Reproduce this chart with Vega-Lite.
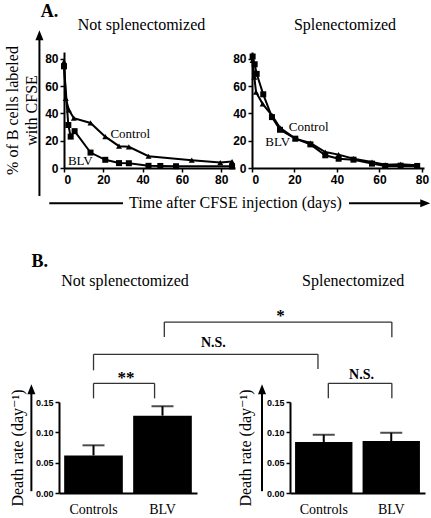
{
  "$schema": "https://vega.github.io/schema/vega-lite/v6.json",
  "background": "white",
  "padding": {"left": 4, "top": 3, "right": 0, "bottom": 0},
  "config": {
    "view": {"stroke": null},
    "axis": {
      "grid": false, "domainColor": "black", "domainWidth": 2, "tickColor": "black", "tickWidth": 1.5, "tickSize": 4,
      "labelFont": "Liberation Sans, Arial, sans-serif", "labelFontWeight": "bold", "labelColor": "black", "labelPadding": 2, "labelOverlap": false,
      "titleFont": "Liberation Serif, Times New Roman, DejaVu Serif, serif", "titleFontWeight": "normal", "titleFontSize": 16, "titleColor": "black"
    },
    "title": {"font": "Liberation Serif, Times New Roman, DejaVu Serif, serif", "fontWeight": "normal", "fontSize": 16, "color": "black"},
    "text": {"font": "Liberation Serif, Times New Roman, DejaVu Serif, serif", "color": "black"}
  },
  "datasets": {
    "cfse": [
      {"panel": "Not splenectomized", "series": "BLV", "day": 0, "pct": 74.5},
      {"panel": "Not splenectomized", "series": "BLV", "day": 2.2, "pct": 31.5},
      {"panel": "Not splenectomized", "series": "BLV", "day": 3.4, "pct": 23},
      {"panel": "Not splenectomized", "series": "BLV", "day": 5.4, "pct": 27},
      {"panel": "Not splenectomized", "series": "BLV", "day": 13.5, "pct": 11.3},
      {"panel": "Not splenectomized", "series": "BLV", "day": 21, "pct": 6},
      {"panel": "Not splenectomized", "series": "BLV", "day": 28, "pct": 3.6},
      {"panel": "Not splenectomized", "series": "BLV", "day": 33, "pct": 3.5},
      {"panel": "Not splenectomized", "series": "BLV", "day": 43, "pct": 1.6},
      {"panel": "Not splenectomized", "series": "BLV", "day": 49, "pct": 1.5},
      {"panel": "Not splenectomized", "series": "BLV", "day": 57, "pct": 1.3},
      {"panel": "Not splenectomized", "series": "BLV", "day": 85.5, "pct": 1.2},
      {"panel": "Not splenectomized", "series": "Control", "day": 0, "pct": 78},
      {"panel": "Not splenectomized", "series": "Control", "day": 0.9, "pct": 51},
      {"panel": "Not splenectomized", "series": "Control", "day": 2.5, "pct": 42.5},
      {"panel": "Not splenectomized", "series": "Control", "day": 5, "pct": 36.5},
      {"panel": "Not splenectomized", "series": "Control", "day": 13.5, "pct": 33},
      {"panel": "Not splenectomized", "series": "Control", "day": 21, "pct": 23},
      {"panel": "Not splenectomized", "series": "Control", "day": 28, "pct": 16},
      {"panel": "Not splenectomized", "series": "Control", "day": 33, "pct": 15.5},
      {"panel": "Not splenectomized", "series": "Control", "day": 43, "pct": 8.6},
      {"panel": "Not splenectomized", "series": "Control", "day": 65, "pct": 5.7},
      {"panel": "Not splenectomized", "series": "Control", "day": 79.5, "pct": 4},
      {"panel": "Not splenectomized", "series": "Control", "day": 85.5, "pct": 4.7},
      {"panel": "Splenectomized", "series": "BLV", "day": 0.3, "pct": 81.7},
      {"panel": "Splenectomized", "series": "BLV", "day": 1.25, "pct": 76},
      {"panel": "Splenectomized", "series": "BLV", "day": 2.2, "pct": 69},
      {"panel": "Splenectomized", "series": "BLV", "day": 5.3, "pct": 54},
      {"panel": "Splenectomized", "series": "BLV", "day": 9.4, "pct": 37.3},
      {"panel": "Splenectomized", "series": "BLV", "day": 13.2, "pct": 28},
      {"panel": "Splenectomized", "series": "BLV", "day": 20.4, "pct": 21.5},
      {"panel": "Splenectomized", "series": "BLV", "day": 27.5, "pct": 17.3},
      {"panel": "Splenectomized", "series": "BLV", "day": 34.5, "pct": 9.3},
      {"panel": "Splenectomized", "series": "BLV", "day": 40.8, "pct": 6.8},
      {"panel": "Splenectomized", "series": "BLV", "day": 47.8, "pct": 6.1},
      {"panel": "Splenectomized", "series": "BLV", "day": 56.5, "pct": 3.2},
      {"panel": "Splenectomized", "series": "BLV", "day": 62.7, "pct": 1.5},
      {"panel": "Splenectomized", "series": "BLV", "day": 70, "pct": 1.7},
      {"panel": "Splenectomized", "series": "BLV", "day": 77.8, "pct": 1.5},
      {"panel": "Splenectomized", "series": "Control", "day": 0.3, "pct": 78.8},
      {"panel": "Splenectomized", "series": "Control", "day": 1.1, "pct": 66.6},
      {"panel": "Splenectomized", "series": "Control", "day": 1.9, "pct": 55.6},
      {"panel": "Splenectomized", "series": "Control", "day": 5, "pct": 47},
      {"panel": "Splenectomized", "series": "Control", "day": 9.4, "pct": 38.5},
      {"panel": "Splenectomized", "series": "Control", "day": 13.2, "pct": 29.5},
      {"panel": "Splenectomized", "series": "Control", "day": 20.4, "pct": 21.5},
      {"panel": "Splenectomized", "series": "Control", "day": 27.5, "pct": 18.3},
      {"panel": "Splenectomized", "series": "Control", "day": 34.5, "pct": 11.7},
      {"panel": "Splenectomized", "series": "Control", "day": 40.8, "pct": 9.8},
      {"panel": "Splenectomized", "series": "Control", "day": 47.8, "pct": 6.8},
      {"panel": "Splenectomized", "series": "Control", "day": 56.5, "pct": 4.4},
      {"panel": "Splenectomized", "series": "Control", "day": 62.7, "pct": 2.4},
      {"panel": "Splenectomized", "series": "Control", "day": 70, "pct": 2.7},
      {"panel": "Splenectomized", "series": "Control", "day": 77.8, "pct": 2}
    ],
    "cfseLabels": [
      {"panel": "Not splenectomized", "day": 33.7, "pct": 24.7, "label": "Control"},
      {"panel": "Not splenectomized", "day": 8.3, "pct": 4.9, "label": "BLV"},
      {"panel": "Splenectomized", "day": 26.7, "pct": 29.8, "label": "Control"},
      {"panel": "Splenectomized", "day": 12.1, "pct": 18.8, "label": "BLV"}
    ],
    "aArrowY": [{"day": -12.5, "pct": -20.5, "pct2": 97.2}],
    "aArrowX": [
      {"day": -7.5, "day2": 30, "pct": -25.9},
      {"day": 145, "day2": 183.8, "pct": -25.9}
    ],
    "aArrowXHead": [{"day": 183.8, "pct": -25.9}],
    "aXTitle": [{"day": 87.2, "pct": -25.9, "label": "Time after CFSE injection (days)"}],
    "rates": [
      {"panel": "Not splenectomized", "group": "Controls", "mean": 0.062, "upper": 0.0786},
      {"panel": "Not splenectomized", "group": "BLV", "mean": 0.1275, "upper": 0.143},
      {"panel": "Splenectomized", "group": "Controls", "mean": 0.084, "upper": 0.096},
      {"panel": "Splenectomized", "group": "BLV", "mean": 0.0857, "upper": 0.0993}
    ],
    "bBrackets": [
      {"ax": 0.5, "ax2": 0.5, "ay": 0.156, "ay2": 0.1808},
      {"ax": 1.384, "ax2": 1.384, "ay": 0.156, "ay2": 0.1808},
      {"ax": 0.5, "ax2": 1.384, "ay": 0.1808, "ay2": 0.1808},
      {"ax": 0.5, "ax2": 0.5, "ay": 0.2022, "ay2": 0.2286},
      {"ax": 3.75, "ax2": 3.75, "ay": 0.2044, "ay2": 0.2286},
      {"ax": 0.5, "ax2": 3.75, "ay": 0.2286, "ay2": 0.2286},
      {"ax": 1.525, "ax2": 1.525, "ay": 0.257, "ay2": 0.2818},
      {"ax": 4.82, "ax2": 4.82, "ay": 0.2566, "ay2": 0.2818},
      {"ax": 1.525, "ax2": 4.82, "ay": 0.2818, "ay2": 0.2818},
      {"ax": 3.9, "ax2": 3.9, "ay": 0.156, "ay2": 0.1808},
      {"ax": 4.82, "ax2": 4.82, "ay": 0.156, "ay2": 0.1808},
      {"ax": 3.9, "ax2": 4.82, "ay": 0.1808, "ay2": 0.1808}
    ],
    "bStars": [
      {"ax": 0.972, "ay": 0.181, "label": "**"},
      {"ax": 3.209, "ay": 0.2836, "label": "*"}
    ],
    "bNS": [
      {"ax": 2.235, "ay": 0.2402, "label": "N.S."},
      {"ax": 4.38, "ay": 0.1886, "label": "N.S."}
    ],
    "bTitles": [
      {"ax": 0.956, "ay": 0.3415, "label": "Not splenectomized"},
      {"ax": 4.26, "ay": 0.3415, "label": "Splenectomized"}
    ],
    "bArrows": [
      {"ax": -0.4, "ay": 0.003, "ay2": 0.171},
      {"ax": 2.94, "ay": 0.003, "ay2": 0.171}
    ]
  },
  "columns": 1,
  "align": "none",
  "spacing": 41,
  "concat": [
    {
      "title": {"text": "A.", "anchor": "start", "frame": "bounds", "dx": 36, "offset": -4, "fontSize": 18, "fontWeight": "bold"},
      "bounds": "flush",
      "spacing": 17,
      "hconcat": [
        {
          "width": 171,
          "height": 116,
          "title": {"text": "Not splenectomized", "frame": "group", "anchor": "middle", "dx": -8, "offset": -3},
          "layer": [
            {
              "data": {"name": "cfse"},
              "transform": [{"filter": "datum.panel === 'Not splenectomized'"}],
              "mark": {"type": "line", "color": "black", "strokeWidth": 2},
              "encoding": {
                "x": {"field": "day", "type": "quantitative", "scale": {"domain": [0, 87], "nice": false, "zero": false}, "axis": {"values": [0, 20, 40, 60, 80], "title": null, "labelFontSize": 12, "labelOverlap": false}},
                "y": {"field": "pct", "type": "quantitative", "scale": {"domain": [0, 85], "nice": false, "zero": false}, "axis": {"tickCount": 5, "title": ["% of B cells labeled", "with CFSE"], "titlePadding": 5, "titleLineHeight": 19, "labelFontSize": 12, "labelOverlap": false, "labelSeparation": 0, "labelBound": false}},
                "detail": {"field": "series", "type": "nominal"}
              }
            },
            {
              "data": {"name": "cfse"},
              "transform": [{"filter": "datum.panel === 'Not splenectomized'"}],
              "mark": {"type": "point", "filled": true, "opacity": 1, "color": "black", "size": 36},
              "encoding": {
                "x": {"field": "day", "type": "quantitative"},
                "y": {"field": "pct", "type": "quantitative"},
                "shape": {"field": "series", "type": "nominal", "scale": {"domain": ["BLV", "Control"], "range": ["square", "triangle-up"]}, "legend": null}
              }
            },
            {
              "data": {"name": "cfseLabels"},
              "transform": [{"filter": "datum.panel === 'Not splenectomized'"}],
              "mark": {"type": "text", "fontSize": 13},
              "encoding": {
                "x": {"field": "day", "type": "quantitative"},
                "y": {"field": "pct", "type": "quantitative"},
                "text": {"field": "label"}
              }
            },
            {
              "data": {"name": "aArrowY"},
              "mark": {"type": "rule", "color": "black", "strokeWidth": 2, "clip": false},
              "encoding": {
                "x": {"field": "day", "type": "quantitative"},
                "y": {"field": "pct", "type": "quantitative"},
                "y2": {"field": "pct2"}
              }
            },
            {
              "data": {"name": "aArrowY"},
              "mark": {"type": "point", "filled": true, "opacity": 1, "color": "black", "size": 100, "shape": "M0,-1L-0.8,1L0.8,1Z", "clip": false},
              "encoding": {
                "x": {"field": "day", "type": "quantitative"},
                "y": {"field": "pct2", "type": "quantitative"}
              }
            },
            {
              "data": {"name": "aArrowX"},
              "mark": {"type": "rule", "color": "black", "strokeWidth": 2, "clip": false},
              "encoding": {
                "x": {"field": "day", "type": "quantitative"},
                "x2": {"field": "day2"},
                "y": {"field": "pct", "type": "quantitative"}
              }
            },
            {
              "data": {"name": "aArrowXHead"},
              "mark": {"type": "point", "filled": true, "opacity": 1, "color": "black", "size": 100, "shape": "M1,0L-1,-0.8L-1,0.8Z", "clip": false},
              "encoding": {
                "x": {"field": "day", "type": "quantitative"},
                "y": {"field": "pct", "type": "quantitative"}
              }
            },
            {
              "data": {"name": "aXTitle"},
              "mark": {"type": "text", "fontSize": 16, "clip": false},
              "encoding": {
                "x": {"field": "day", "type": "quantitative"},
                "y": {"field": "pct", "type": "quantitative"},
                "text": {"field": "label"}
              }
            }
          ]
        },
        {
          "width": 172,
          "height": 116,
          "title": {"text": "Splenectomized", "frame": "group", "anchor": "middle", "dx": 7, "offset": 19},
          "layer": [
            {
              "data": {"name": "cfse"},
              "transform": [{"filter": "datum.panel === 'Splenectomized'"}],
              "mark": {"type": "line", "color": "black", "strokeWidth": 2},
              "encoding": {
                "x": {"field": "day", "type": "quantitative", "scale": {"domain": [0, 81], "nice": false, "zero": false}, "axis": {"values": [0, 20, 40, 60, 80], "title": null, "labelFontSize": 12, "labelOverlap": false}},
                "y": {"field": "pct", "type": "quantitative", "scale": {"domain": [0, 85], "nice": false, "zero": false}, "axis": {"tickCount": 5, "title": null, "labelFontSize": 12, "labelOverlap": false, "labelSeparation": 0, "labelBound": false}},
                "detail": {"field": "series", "type": "nominal"}
              }
            },
            {
              "data": {"name": "cfse"},
              "transform": [{"filter": "datum.panel === 'Splenectomized'"}],
              "mark": {"type": "point", "filled": true, "opacity": 1, "color": "black", "size": 36},
              "encoding": {
                "x": {"field": "day", "type": "quantitative"},
                "y": {"field": "pct", "type": "quantitative"},
                "shape": {"field": "series", "type": "nominal", "scale": {"domain": ["BLV", "Control"], "range": ["square", "triangle-up"]}, "legend": null}
              }
            },
            {
              "data": {"name": "cfseLabels"},
              "transform": [{"filter": "datum.panel === 'Splenectomized'"}],
              "mark": {"type": "text", "fontSize": 13},
              "encoding": {
                "x": {"field": "day", "type": "quantitative"},
                "y": {"field": "pct", "type": "quantitative"},
                "text": {"field": "label"}
              }
            }
          ]
        }
      ]
    },
    {
      "width": 361,
      "height": 222,
      "title": {"text": "B.", "anchor": "start", "frame": "bounds", "dx": 22, "offset": 0, "fontSize": 18, "fontWeight": "bold"},
      "resolve": {"scale": {"x": "independent", "y": "independent"}, "axis": {"x": "independent", "y": "independent"}},
      "layer": [
        {
          "data": {"name": "rates"},
          "transform": [{"filter": "datum.panel === 'Not splenectomized'"}],
          "encoding": {
            "x": {"field": "group", "type": "nominal", "sort": ["Controls", "BLV"], "scale": {"range": [-5, 133], "paddingInner": 0.15, "paddingOuter": 0.075}, "axis": {"orient": "bottom", "title": null, "labelFont": "Liberation Serif, Times New Roman, DejaVu Serif, serif", "labelFontWeight": "normal", "labelFontSize": 14, "labelAngle": 0, "ticks": false, "labelPadding": 9}}
          },
          "layer": [
            {
              "mark": {"type": "bar", "color": "black"},
              "encoding": {
                "y": {"field": "mean", "type": "quantitative", "scale": {"domain": [0, 0.15], "range": [222, 131], "nice": false, "zero": false}, "axis": {"orient": "left", "offset": 5, "values": [0, 0.05, 0.1, 0.15], "format": ".2f", "title": "Death rate (day⁻¹)", "titlePadding": 10, "labelFontSize": 9}}
              }
            },
            {
              "mark": {"type": "rule", "color": "black", "strokeWidth": 2},
              "encoding": {"y": {"field": "mean", "type": "quantitative"}, "y2": {"field": "upper"}}
            },
            {
              "mark": {"type": "tick", "color": "black", "size": 22, "thickness": 2},
              "encoding": {"y": {"field": "upper", "type": "quantitative"}}
            }
          ]
        },
        {
          "data": {"name": "rates"},
          "transform": [{"filter": "datum.panel === 'Splenectomized'"}],
          "encoding": {
            "x": {"field": "group", "type": "nominal", "sort": ["Controls", "BLV"], "scale": {"range": [226, 361], "paddingInner": 0.15, "paddingOuter": 0.075}, "axis": {"orient": "bottom", "title": null, "labelFont": "Liberation Serif, Times New Roman, DejaVu Serif, serif", "labelFontWeight": "normal", "labelFontSize": 14, "labelAngle": 0, "ticks": false, "labelPadding": 9}}
          },
          "layer": [
            {
              "mark": {"type": "bar", "color": "black"},
              "encoding": {
                "y": {"field": "mean", "type": "quantitative", "scale": {"domain": [0, 0.15], "range": [222, 131], "nice": false, "zero": false}, "axis": {"orient": "left", "offset": -226, "values": [0, 0.05, 0.1, 0.15], "format": ".2f", "title": "Death rate (day⁻¹)", "titlePadding": 13, "labelFontSize": 9}}
              }
            },
            {
              "mark": {"type": "rule", "color": "black", "strokeWidth": 2},
              "encoding": {"y": {"field": "mean", "type": "quantitative"}, "y2": {"field": "upper"}}
            },
            {
              "mark": {"type": "tick", "color": "black", "size": 22, "thickness": 2},
              "encoding": {"y": {"field": "upper", "type": "quantitative"}}
            }
          ]
        },
        {
          "layer": [
            {
              "data": {"name": "bBrackets"},
              "mark": {"type": "rule", "color": "#333333", "strokeWidth": 1.3, "clip": false},
              "encoding": {
                "x": {"field": "ax", "type": "quantitative", "scale": {"domain": [0, 5.3], "range": [-5, 361], "nice": false, "zero": false}, "axis": null},
                "x2": {"field": "ax2"},
                "y": {"field": "ay", "type": "quantitative", "scale": {"domain": [0, 0.15], "range": [222, 131], "nice": false, "zero": false}, "axis": null},
                "y2": {"field": "ay2"}
              }
            },
            {
              "data": {"name": "bStars"},
              "mark": {"type": "text", "fontSize": 17, "fontWeight": "bold", "baseline": "alphabetic", "clip": false},
              "encoding": {
                "x": {"field": "ax", "type": "quantitative"},
                "y": {"field": "ay", "type": "quantitative"},
                "text": {"field": "label"}
              }
            },
            {
              "data": {"name": "bNS"},
              "mark": {"type": "text", "fontSize": 14, "fontWeight": "bold", "baseline": "alphabetic", "clip": false},
              "encoding": {
                "x": {"field": "ax", "type": "quantitative"},
                "y": {"field": "ay", "type": "quantitative"},
                "text": {"field": "label"}
              }
            },
            {
              "data": {"name": "bTitles"},
              "mark": {"type": "text", "fontSize": 16, "baseline": "alphabetic", "clip": false},
              "encoding": {
                "x": {"field": "ax", "type": "quantitative"},
                "y": {"field": "ay", "type": "quantitative"},
                "text": {"field": "label"}
              }
            },
            {
              "data": {"name": "bArrows"},
              "mark": {"type": "rule", "color": "black", "strokeWidth": 2, "clip": false},
              "encoding": {
                "x": {"field": "ax", "type": "quantitative"},
                "y": {"field": "ay", "type": "quantitative"},
                "y2": {"field": "ay2"}
              }
            },
            {
              "data": {"name": "bArrows"},
              "mark": {"type": "point", "filled": true, "opacity": 1, "color": "black", "size": 100, "shape": "M0,-1L-0.8,1L0.8,1Z", "clip": false},
              "encoding": {
                "x": {"field": "ax", "type": "quantitative"},
                "y": {"field": "ay2", "type": "quantitative"}
              }
            }
          ]
        }
      ]
    }
  ]
}
